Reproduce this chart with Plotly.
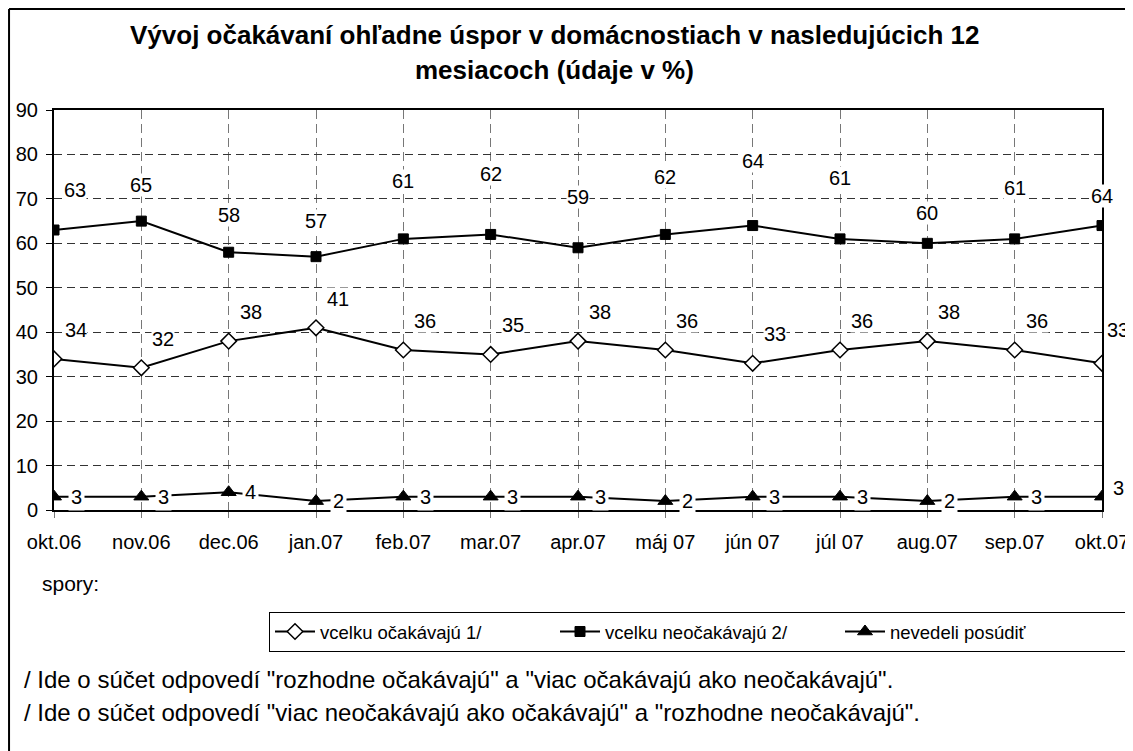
import plotly.graph_objects as go

months = ["okt.06", "nov.06", "dec.06", "jan.07", "feb.07", "mar.07", "apr.07",
          "máj 07", "jún 07", "júl 07", "aug.07", "sep.07", "okt.07"]
ocakavaju = [34, 32, 38, 41, 36, 35, 38, 36, 33, 36, 38, 36, 33]
neocakavaju = [63, 65, 58, 57, 61, 62, 59, 62, 64, 61, 60, 61, 64]
nevedeli = [3, 3, 4, 2, 3, 3, 3, 2, 3, 3, 2, 3, 3]

name_ocak = "vcelku očakávajú 1/"
name_neocak = "vcelku neočakávajú 2/"
name_nev = "nevedeli posúdiť"

title_1 = "Vývoj očakávaní ohľadne úspor v domácnostiach v nasledujúcich 12"
title_2 = "mesiacoch (údaje v %)"
note_spory = "spory:"
foot_1 = "/ Ide o súčet odpovedí \"rozhodne očakávajú\" a \"viac očakávajú ako neočakávajú\"."
foot_2 = "/ Ide o súčet odpovedí \"viac neočakávajú ako očakávajú\" a \"rozhodne neočakávajú\"."

# label pixel shifts (style only)
neo_yshift = [40, 36, 37, 36, 58, 60, 51, 57, 65, 61, 30, 51, 30]
neo_xshift = [21, 0, 0, 0, 0, 0, 0, 0, 0, 0, 0, 0, 0]

FONT = "Liberation Sans, Arial, sans-serif"

fig = go.Figure()
fig.add_trace(go.Scatter(x=months, y=ocakavaju, name=name_ocak, mode="lines+markers",
                         line=dict(color="black", width=2),
                         marker=dict(symbol="diamond", size=12, color="white",
                                     line=dict(color="black", width=1.5))))
fig.add_trace(go.Scatter(x=months, y=neocakavaju, name=name_neocak, mode="lines+markers",
                         line=dict(color="black", width=2),
                         marker=dict(symbol="square", size=10, color="black",
                                     line=dict(color="black", width=1))))
fig.add_trace(go.Scatter(x=months, y=nevedeli, name=name_nev, mode="lines+markers",
                         line=dict(color="black", width=2),
                         marker=dict(symbol="triangle-up", size=13, color="black",
                                     line=dict(color="black", width=1))))

anns = []
for i, m in enumerate(months):
    last = i == len(months) - 1
    anns.append(dict(x=m, y=neocakavaju[i], text=str(neocakavaju[i]), showarrow=False,
                     xshift=neo_xshift[i], yshift=neo_yshift[i], bgcolor="white", borderpad=0,
                     font=dict(size=20, color="black", family=FONT)))
    anns.append(dict(x=m, y=ocakavaju[i], text=str(ocakavaju[i]), showarrow=False,
                     xshift=16 if last else 22, yshift=33 if last else 29,
                     bgcolor="white", borderpad=0,
                     font=dict(size=20, color="black", family=FONT)))
    anns.append(dict(x=m, y=nevedeli[i], text=str(nevedeli[i]), showarrow=False,
                     xshift=16 if last else 22, yshift=9 if last else 0,
                     bgcolor="white", borderpad=2,
                     font=dict(size=20, color="black", family=FONT)))

anns += [
    dict(xref="paper", yref="paper", x=0.478, y=1.1875, yanchor="middle",
         text="<b>" + title_1 + "</b>",
         showarrow=False, font=dict(size=26, color="black", family=FONT)),
    dict(xref="paper", yref="paper", x=0.478, y=1.10, yanchor="middle",
         text="<b>" + title_2 + "</b>",
         showarrow=False, font=dict(size=26, color="black", family=FONT)),
    dict(xref="paper", yref="paper", x=-0.0134, y=-0.1825, yanchor="middle",
         text=note_spory, xanchor="left",
         showarrow=False, font=dict(size=21, color="black", family=FONT)),
    dict(xref="paper", yref="paper", x=-0.0305, y=-0.4225, yanchor="middle",
         text=foot_1, xanchor="left",
         showarrow=False, font=dict(size=24, color="black", family=FONT)),
    dict(xref="paper", yref="paper", x=-0.0305, y=-0.505, yanchor="middle",
         text=foot_2, xanchor="left",
         showarrow=False, font=dict(size=24, color="black", family=FONT)),
]

fig.update_layout(
    width=1125, height=743,
    margin=dict(l=46, r=31, t=102, b=241, autoexpand=False),
    paper_bgcolor="white", plot_bgcolor="white",
    font=dict(family=FONT, size=18, color="black"),
    showlegend=True,
    legend=dict(orientation="h", xref="container", yref="container",
                x=0.232, y=0.1871, xanchor="left", yanchor="top",
                bgcolor="white", bordercolor="black", borderwidth=1,
                font=dict(size=18.5, color="black", family=FONT),
                itemwidth=40, entrywidth=230, traceorder="normal"),
    annotations=anns,
    shapes=[
        dict(type="line", xref="paper", yref="paper", x0=-0.0429, x1=1.2, y0=1.2525, y1=1.2525,
             line=dict(color="black", width=2)),
        dict(type="line", xref="paper", yref="paper", x0=-0.0429, x1=-0.0429, y0=1.2525, y1=-0.8,
             line=dict(color="black", width=2)),
    ],
)

fig.update_xaxes(type="category", range=[0, 12], showgrid=True, gridcolor="#777777",
                 griddash="9px,5px", gridwidth=1, showline=True, linecolor="black",
                 linewidth=2, mirror=True, ticks="outside", ticklen=6, tickcolor="#777777",
                 ticklabelstandoff=7, tickfont=dict(size=20, family=FONT, color="black"),
                 zeroline=False, automargin=False)
fig.update_yaxes(range=[0, 90], dtick=10, showgrid=True, gridcolor="#333333",
                 griddash="8px,5px", gridwidth=1, showline=True, linecolor="black",
                 linewidth=2, mirror=True, ticks="outside", ticklen=6, tickcolor="black",
                 ticklabelstandoff=4, tickfont=dict(size=20, family=FONT, color="black"),
                 zeroline=False, automargin=False)

fig.write_html("out.html")
